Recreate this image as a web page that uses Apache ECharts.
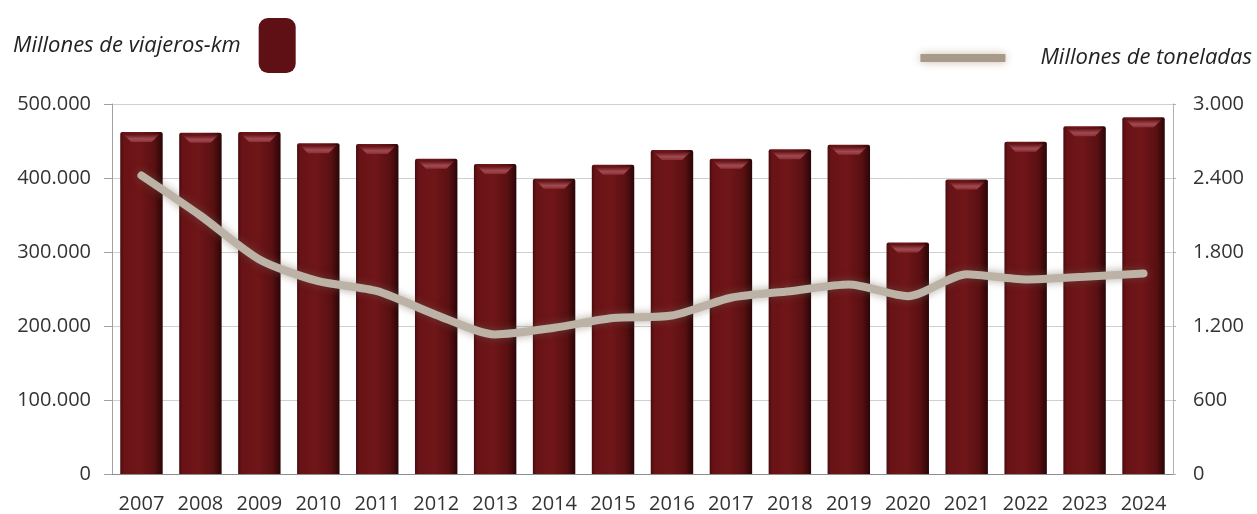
<!DOCTYPE html>
<html>
<head>
<meta charset="utf-8">
<script src="https://cdn.jsdelivr.net/npm/echarts@6/dist/echarts.min.js"></script>
<style>
  html, body { margin: 0; padding: 0; background: #fff; }
  #chart { width: 1257px; height: 514px; }
</style>
</head>
<body>
<div id="chart"></div>
<script>
// años
var years = ['2007', '2008', '2009', '2010', '2011', '2012', '2013', '2014', '2015',
  '2016', '2017', '2018', '2019', '2020', '2021', '2022', '2023', '2024']
// millones de viajeros-km (eje izquierdo)
var viajeros = [462000, 461000, 462000, 447000, 446000, 426000, 419000, 399000, 418000,
  438000, 426000, 439000, 445000, 313000, 398000, 449000, 470000, 482000]
// millones de toneladas (eje derecho)
var toneladas = [2420, 2095, 1740, 1563, 1482, 1290, 1132, 1186, 1265,
  1285, 1429, 1482, 1536, 1442, 1620, 1578, 1600, 1625]

var fmt = function(v) {
  return String(v).replace(/\B(?=(\d{3})+(?!\d))/g, '.')
}

var chart = echarts.init(document.getElementById('chart'))
var font = '"Open Sans", "Noto Sans", sans-serif'

// brillo biselado en la parte alta de cada barra
function bevel(params, api) {
  var top = api.coord([api.value(0), api.value(1)])
  var w = api.size([1, 0])[0] * 0.72
  var x0 = top[0] - w / 2
  var x1 = top[0] + w / 2
  var y = top[1]
  return {
    type: 'polygon',
    shape: {
      points: [[x0 + 3, y + 2], [x1 - 3, y + 2], [x1 - 11, y + 10], [x0 + 11, y + 10]]
    },
    style: {
      fill: new echarts.graphic.LinearGradient(0, 0, 0, 1, [
        { offset: 0, color: '#5c1114' },
        { offset: 0.6, color: '#a24950' },
        { offset: 1, color: '#8a3037' }
      ])
    }
  }
}

chart.setOption({
  animation: false,
  textStyle: { fontFamily: font },
  grid: { left: 112, right: 84, top: 104, bottom: 39 },
  legend: [
    {
      data: [{ name: 'Millones de viajeros-km', icon: 'roundRect', itemStyle: { color: '#5e1014' } }],
      left: 8,
      top: 13,
      align: 'right',
      itemWidth: 37,
      itemHeight: 55,
      textStyle: {
        fontFamily: font, fontStyle: 'italic', fontSize: 22, color: '#222',
        padding: [33, 13, 0, 0]
      }
    },
    {
      data: [{ name: 'Millones de toneladas', icon: 'rect' }],
      right: 0,
      top: 42,
      align: 'left',
      itemWidth: 85,
      itemHeight: 8,
      itemStyle: { color: '#a89a8a', shadowBlur: 8, shadowColor: 'rgba(150,110,80,0.5)' },
      textStyle: {
        fontFamily: font, fontStyle: 'italic', fontSize: 22, color: '#222',
        padding: [0, 0, 0, 30]
      }
    }
  ],
  xAxis: {
    type: 'category',
    data: years,
    axisLine: { lineStyle: { color: '#8c8c8c' } },
    axisTick: { alignWithLabel: false, length: 7, lineStyle: { color: '#8c8c8c' } },
    axisLabel: { color: '#333', fontSize: 20, margin: 20, interval: 0 }
  },
  yAxis: [
    {
      type: 'value',
      min: 0,
      max: 500000,
      interval: 100000,
      axisLine: { show: true, lineStyle: { color: '#a0a0a0' } },
      axisTick: { show: true, length: 8, lineStyle: { color: '#a0a0a0' } },
      splitLine: { lineStyle: { color: '#cfcfcf' } },
      axisLabel: { color: '#333', fontSize: 20, margin: 21, formatter: fmt }
    },
    {
      type: 'value',
      min: 0,
      max: 3000,
      interval: 600,
      axisLine: { show: true, lineStyle: { color: '#b0b0b0' } },
      axisTick: { show: true, length: 3, lineStyle: { color: '#b0b0b0' } },
      splitLine: { show: false },
      axisLabel: { color: '#333', fontSize: 20, margin: 20, formatter: fmt }
    }
  ],
  series: [
    {
      name: 'Millones de viajeros-km',
      type: 'bar',
      data: viajeros,
      barCategoryGap: '28%',
      itemStyle: {
        borderRadius: [2, 2, 0, 0],
        color: new echarts.graphic.LinearGradient(0, 0, 1, 0, [
          { offset: 0, color: '#480b0e' },
          { offset: 0.08, color: '#681316' },
          { offset: 0.45, color: '#701619' },
          { offset: 0.8, color: '#5a1012' },
          { offset: 1, color: '#2a0607' }
        ])
      }
    },
    {
      name: 'bisel',
      type: 'custom',
      data: viajeros.map(function(v, i) { return [i, v] }),
      renderItem: bevel,
      silent: true,
      z: 3
    },
    {
      name: 'Millones de toneladas',
      type: 'line',
      yAxisIndex: 1,
      data: toneladas,
      smooth: 0.25,
      symbol: 'none',
      lineStyle: {
        color: '#bcb2a6',
        width: 8,
        cap: 'round',
        shadowBlur: 8,
        shadowColor: 'rgba(110,95,80,0.55)'
      },
      itemStyle: { color: '#bcb2a6' },
      z: 5
    }
  ]
})
</script>
</body>
</html>
